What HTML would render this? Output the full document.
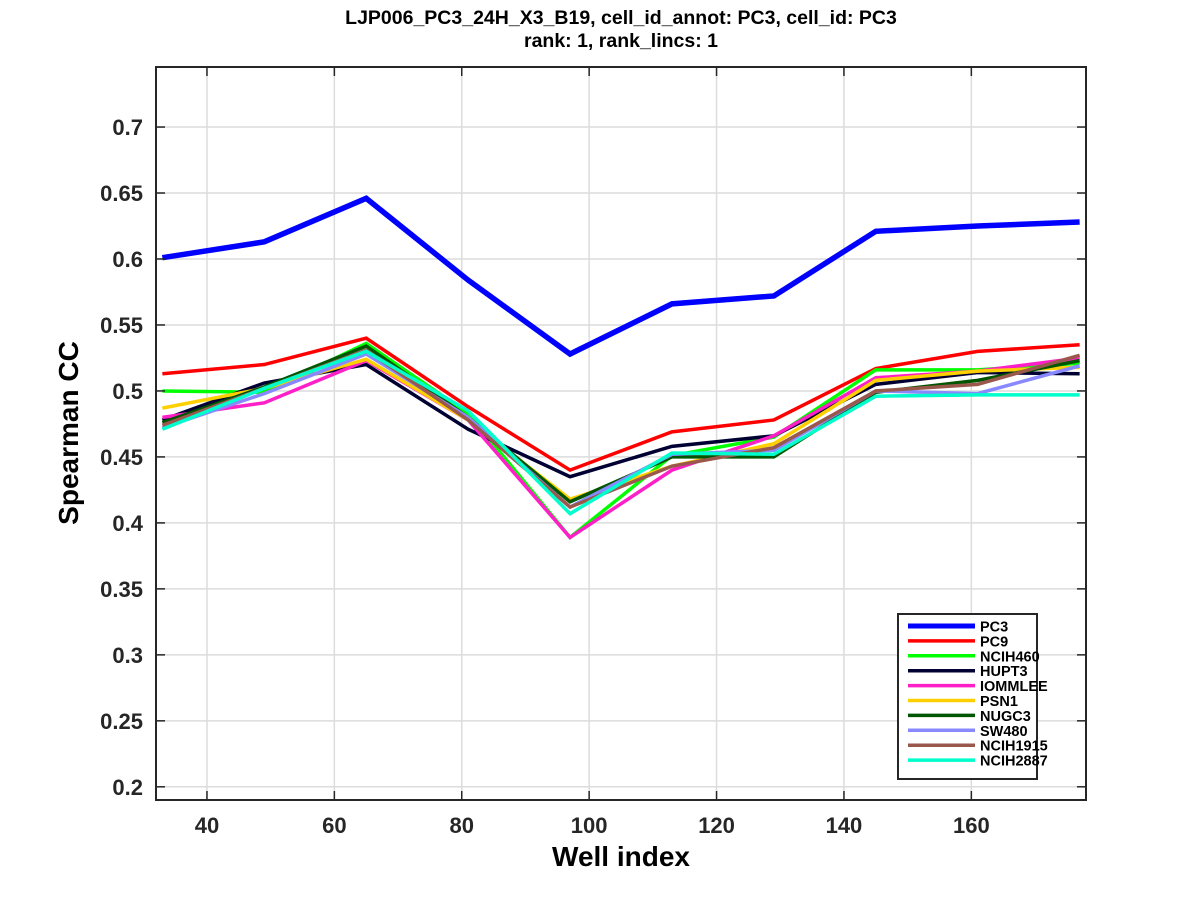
<!DOCTYPE html>
<html><head><meta charset="utf-8"><style>
body{margin:0;background:#fff;}
svg{display:block;font-family:"Liberation Sans",Arial,sans-serif;}
</style></head><body>
<svg id="chart" width="1200" height="900" viewBox="0 0 1200 900">
<rect width="1200" height="900" fill="#fff"/>
<text x="621" y="24" font-size="19.5" font-weight="bold" text-anchor="middle">LJP006_PC3_24H_X3_B19, cell_id_annot: PC3, cell_id: PC3</text>
<text x="621" y="47" font-size="19.5" font-weight="bold" text-anchor="middle">rank: 1, rank_lincs: 1</text>
<g id="grid"></g><g id="series"></g><g id="axes"></g><g id="legend"></g>
<text x="621" y="866" font-size="28" font-weight="bold" text-anchor="middle">Well index</text>
<text transform="translate(78,433) rotate(-90)" font-size="28" font-weight="bold" text-anchor="middle">Spearman CC</text>
</svg>
<script>
const wells=[33,49,65,81,97,113,129,145,161,177];
const names=["PC3","PC9","NCIH460","HUPT3","IOMMLEE","PSN1","NUGC3","SW480","NCIH1915","NCIH2887"];
const colors=["#0000ff","#ff0000","#00ff00","#000033","#ff1fc8","#ffd000","#005500","#8888ff","#9a574c","#00ffcc"];
const pc3=[0.601,0.613,0.646,0.584,0.528,0.566,0.572,0.621,0.625,0.628];
const pc9=[0.513,0.520,0.540,0.488,0.440,0.469,0.478,0.517,0.530,0.535];
const ncih460=[0.500,0.499,0.536,0.483,0.389,0.451,0.465,0.516,0.516,0.521];
const hupt3=[0.478,0.506,0.520,0.471,0.435,0.458,0.466,0.505,0.514,0.513];
const iommlee=[0.480,0.491,0.523,0.478,0.389,0.440,0.466,0.510,0.515,0.525];
const psn1=[0.487,0.502,0.524,0.478,0.418,0.443,0.460,0.508,0.515,0.518];
const nugc3=[0.476,0.503,0.534,0.480,0.416,0.450,0.450,0.499,0.508,0.523];
const sw480=[0.472,0.498,0.528,0.480,0.412,0.452,0.455,0.500,0.498,0.519];
const ncih1915=[0.474,0.502,0.531,0.478,0.412,0.443,0.457,0.500,0.505,0.527];
const ncih2887=[0.471,0.502,0.530,0.485,0.407,0.453,0.452,0.496,0.497,0.497];
const allSeries=[pc3,pc9,ncih460,hupt3,iommlee,psn1,nugc3,sw480,ncih1915,ncih2887];
const xTicks=[40,60,80,100,120,140,160];
const yTicks=[0.2,0.25,0.3,0.35,0.4,0.45,0.5,0.55,0.6,0.65,0.7];

const L=156,R=1086,T=67,B=800;
const xMin=32,xMax=178,yMin=0.19,yMax=0.7455;
const X=v=>L+(v-xMin)/(xMax-xMin)*(R-L);
const Y=v=>B-(v-yMin)/(yMax-yMin)*(B-T);
const NS="http://www.w3.org/2000/svg";
function mk(tag,attrs,parent){const e=document.createElementNS(NS,tag);for(const k in attrs)e.setAttribute(k,attrs[k]);parent.appendChild(e);return e;}
const grid=document.getElementById('grid'),axes=document.getElementById('axes'),ser=document.getElementById('series'),leg=document.getElementById('legend');
xTicks.forEach(t=>{
  const g=mk('line',{x1:X(t),x2:X(t),y1:T,y2:B,stroke:'#dcdcdc','stroke-width':1.5},grid);
  
  
  mk('line',{x1:X(t),x2:X(t),y1:B,y2:B-9,stroke:'#262626','stroke-width':1.5},axes);
  mk('line',{x1:X(t),x2:X(t),y1:T,y2:T+9,stroke:'#262626','stroke-width':1.5},axes);
  const tx=mk('text',{x:X(t),y:B+33,'font-size':22,'font-weight':'bold','text-anchor':'middle',fill:'#262626'},axes);
  tx.textContent=t;
  
  
});
yTicks.forEach(t=>{
  const g=mk('line',{x1:L,x2:R,y1:Y(t),y2:Y(t),stroke:'#dcdcdc','stroke-width':1.5},grid);
  
  
  mk('line',{x1:L,x2:L+9,y1:Y(t),y2:Y(t),stroke:'#262626','stroke-width':1.5},axes);
  mk('line',{x1:R,x2:R-9,y1:Y(t),y2:Y(t),stroke:'#262626','stroke-width':1.5},axes);
  const tx=mk('text',{x:L-13,y:Y(t)+8,'font-size':22,'font-weight':'bold','text-anchor':'end',fill:'#262626'},axes);
  tx.textContent=String(t);
  
  
});
const frame=mk('rect',{x:L,y:T,width:R-L,height:B-T,fill:'none',stroke:'#262626','stroke-width':2},axes);


allSeries.forEach((s,i)=>{
  const p=mk('polyline',{points:s.map((v,j)=>X(wells[j])+','+Y(v)).join(' '),fill:'none',stroke:colors[i],'stroke-width':i==0?5.5:3.5,'stroke-linejoin':'miter'},ser);
  
  
});
ser.appendChild(ser.firstChild);
const lb=mk('rect',{x:898,y:614,width:139,height:165,fill:'#fff',stroke:'#262626','stroke-width':2},leg);


names.forEach((n,i)=>{
  const y=626+i*14.9;
  const ln=mk('line',{x1:908,x2:975,y1:y,y2:y,stroke:colors[i],'stroke-width':i==0?5:3.5},leg);
  
  
  const tx=mk('text',{x:980,y:y+5.5,'font-size':14.5,'font-weight':'bold',fill:'#000'},leg);
  tx.textContent=n;
  
  
});
</script>
</body></html>
